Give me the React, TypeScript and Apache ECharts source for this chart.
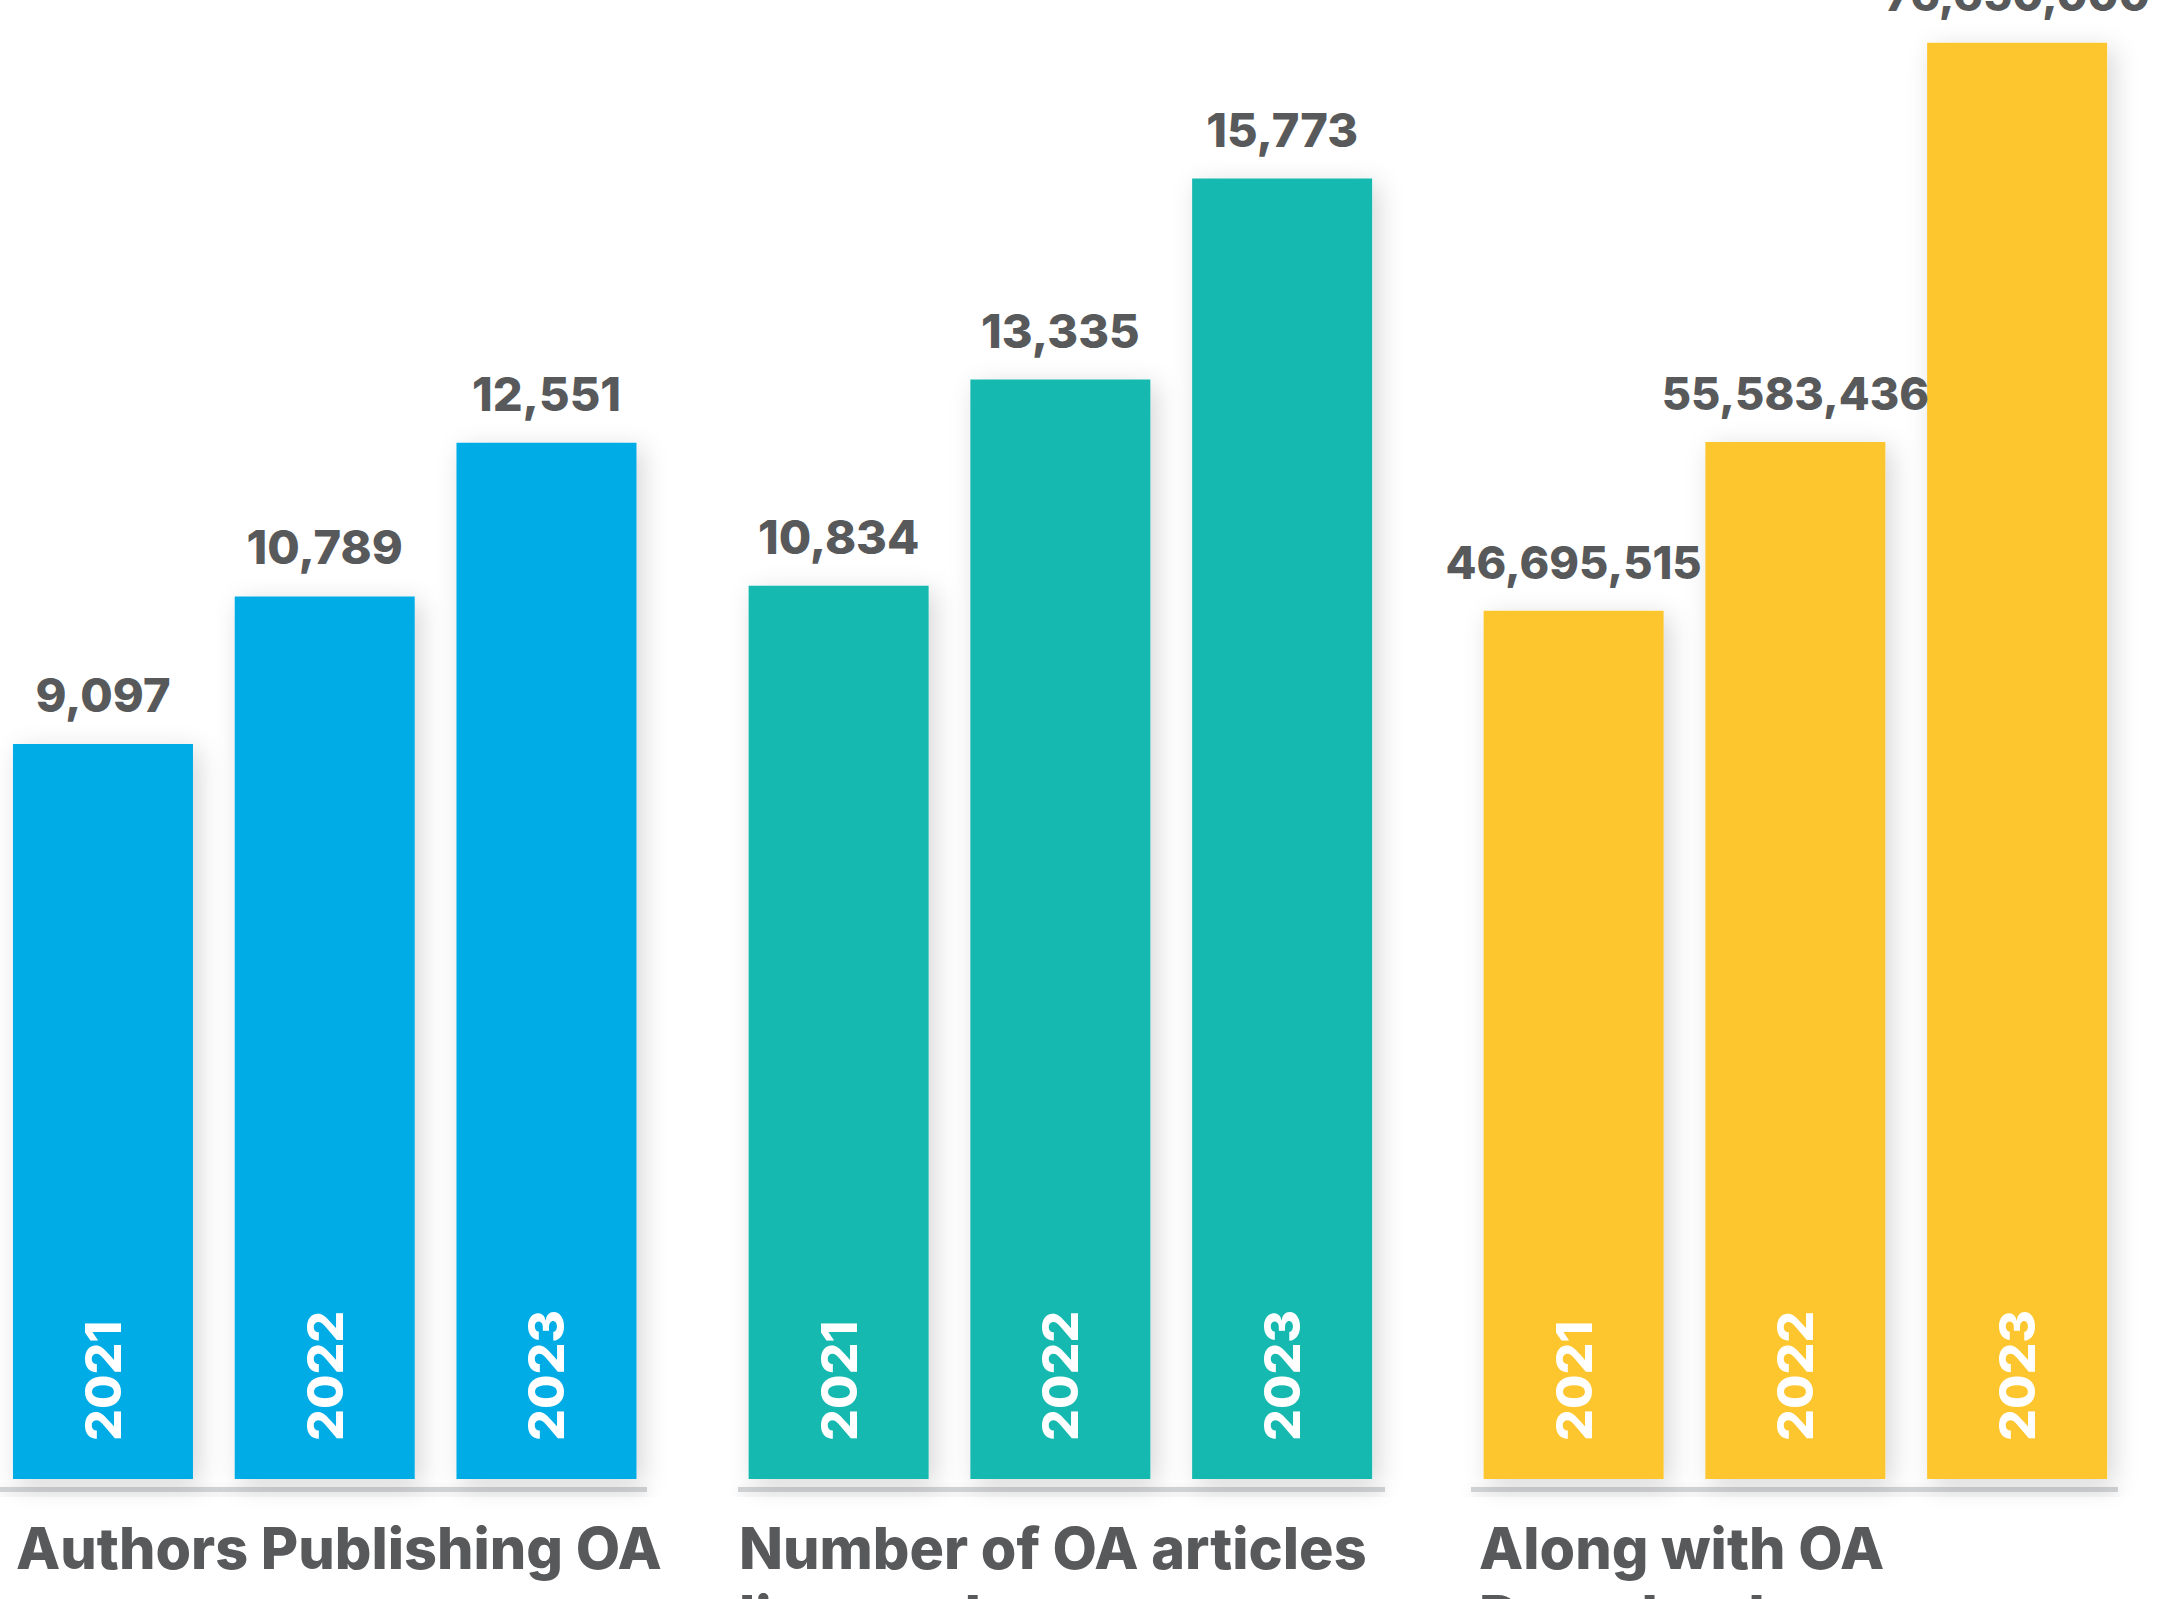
import React, { useEffect, useRef } from "react";
import * as echarts from "echarts";

const categories = ["2021", "2022", "2023"];
const authorsValues = [9097, 10789, 12551];
const articlesValues = [10834, 13335, 15773];
const downloadsValues = [46695515, 55583436, 76650000];
const groupTitles = ["Authors Publishing OA", "Number of OA articles\nlicensed", "Along with OA\nDownloads"];
const groupColors = ["#02ACE6", "#15B9B0", "#FDC52E"];

const W = 2158;
const H = 1599;
const OFF = 30; // canvas extends OFF px beyond the left edge of the page
const TEXT = "#58595B";
const FONT = "Inter";

const groups = [
  { values: authorsValues, left: -7.9, min: 668, max: 17629, titleX: 16, lineX: 0, labelSize: 47 },
  { values: articlesValues, left: 727.75, min: 0, max: 17938, titleX: 739, lineX: 738, labelSize: 47 },
  { values: downloadsValues, left: 1462.75, min: 900000, max: 78900000, titleX: 1479, lineX: 1471, labelSize: 45 },
];
const GRID_W = 665.25;
const GRID_BOTTOM = 120;

export default function App() {
  const ref = useRef<HTMLDivElement>(null);
  useEffect(() => {
    if (!ref.current) return;
    const chart = echarts.init(ref.current, null, { renderer: "svg", width: W + OFF, height: H });
    const fmt = (v: number) => v.toLocaleString("en-US");
    const option: any = {
      animation: false,
      backgroundColor: "#ffffff",
      grid: groups.map((g) => ({ left: g.left + OFF, width: GRID_W, top: 0, bottom: GRID_BOTTOM, containLabel: false })),
      xAxis: groups.map((g, i) => ({
        type: "category",
        gridIndex: i,
        data: categories,
        show: false,
      })),
      yAxis: groups.map((g, i) => ({
        type: "value",
        gridIndex: i,
        min: g.min,
        max: g.max,
        show: false,
        splitLine: { show: false },
      })),
      title: groups.map((g, i) => ({
        text: groupTitles[i],
        left: g.titleX + OFF,
        top: 1514,
        padding: 0,
        textStyle: { fontFamily: FONT, fontSize: 57.5, fontWeight: 800, color: TEXT, lineHeight: 68 },
      })),
      graphic: groups.map((g) => ({
        type: "rect",
        shape: { x: g.lineX + OFF, y: 1487, width: 647, height: 5 },
        style: { fill: "#D1D2D4", shadowBlur: 12, shadowColor: "rgba(0,0,0,0.12)", shadowOffsetY: 4 },
        z: 1,
      })),
      series: [
        ...groups.map((g, i) => ({
          type: "bar",
          xAxisIndex: i,
          yAxisIndex: i,
          data: g.values,
          barWidth: 180,
          itemStyle: {
            color: groupColors[i],
            shadowBlur: 26,
            shadowColor: "rgba(0,0,0,0.16)",
            shadowOffsetX: 6,
            shadowOffsetY: 6,
          },
          label: {
            show: true,
            position: "top",
            distance: 26,
            formatter: (p: any) => fmt(p.value),
            fontFamily: FONT,
            fontSize: g.labelSize,
            fontWeight: 800,
            color: TEXT,
          },
          z: 2,
        })),
        ...groups.map((g, i) => ({
          type: "bar",
          xAxisIndex: i,
          yAxisIndex: i,
          data: g.values,
          barWidth: 180,
          barGap: "-100%",
          itemStyle: { color: "transparent" },
          label: {
            show: true,
            position: "insideBottom",
            distance: 38,
            rotate: 90,
            align: "left",
            verticalAlign: "middle",
            formatter: (p: any) => p.name,
            fontFamily: FONT,
            fontSize: 50,
            fontWeight: 800,
            color: "#ffffff",
          },
          z: 3,
        })),
      ],
    };
    chart.setOption(option);
    return () => chart.dispose();
  }, []);
  return (
    <div style={{ position: "fixed", left: 0, top: 0, width: W, height: H, overflow: "hidden", background: "#fff" }}>
      <div ref={ref} style={{ position: "absolute", left: -OFF, top: 0, width: W + OFF, height: H }} />
    </div>
  );
}
